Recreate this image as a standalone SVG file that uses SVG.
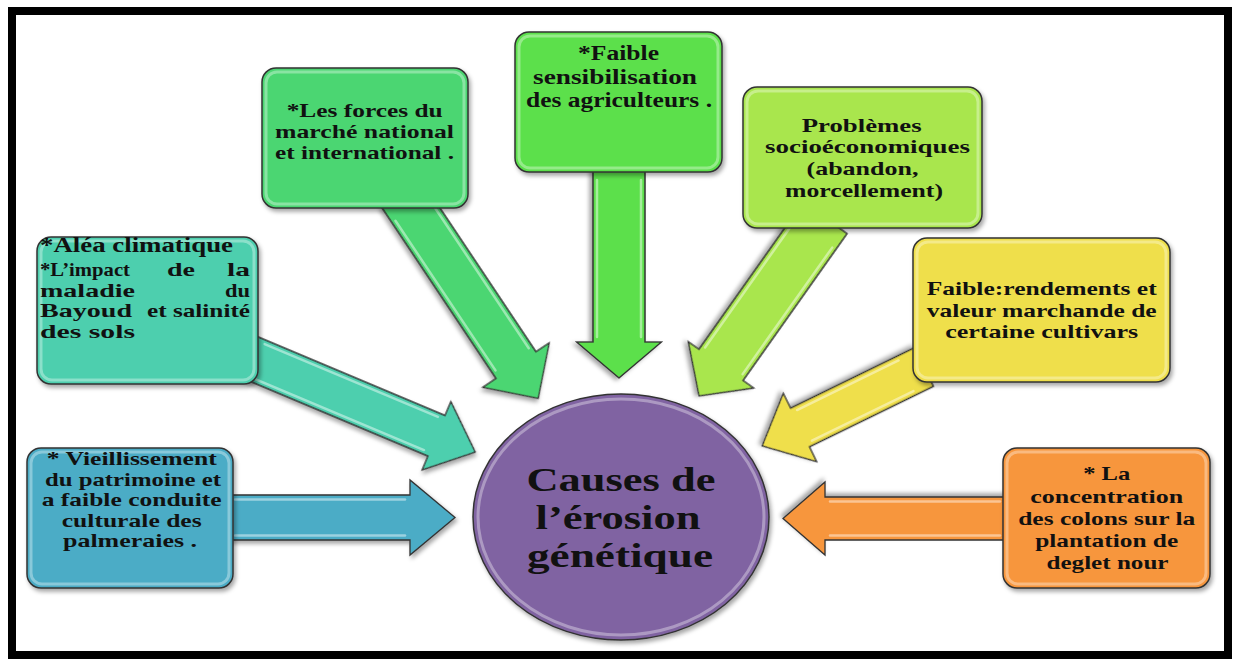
<svg xmlns="http://www.w3.org/2000/svg" width="1237" height="662" viewBox="0 0 1237 662">
<defs>
<filter id="sh" x="-20%" y="-20%" width="140%" height="140%">
<feDropShadow dx="2" dy="3" stdDeviation="2" flood-color="#000" flood-opacity="0.35"/>
</filter>
<style>
.box{stroke:#333;stroke-width:1.5;filter:url(#sh)}
.gl{fill:none;stroke:#fff;stroke-opacity:0.35;stroke-width:3}
.arr{stroke:#333;stroke-width:1.3;stroke-linejoin:miter;filter:url(#sh)}
.hl{stroke:#fff;stroke-opacity:0.45;stroke-width:2.5;stroke-linecap:round}
.t{font-family:"Liberation Serif","Times New Roman",serif;font-weight:bold;font-size:19px;fill:#111}
.tc{font-family:"Liberation Serif","Times New Roman",serif;font-weight:bold;font-size:33px;fill:#111}
</style>
</defs>
<rect x="0" y="0" width="1237" height="662" fill="#fff"/>
<rect x="12" y="11" width="1216" height="644" fill="none" stroke="#000" stroke-width="8"/>

<g id="connectors">
<g transform="translate(225,517.5)">
<polygon class="arr" fill="#4bacc6" points="0,-22.5 185,-22.5 185,-37.5 230,0 185,37.5 185,22.5 0,22.5"/>
<line class="hl" x1="10" y1="-18" x2="180" y2="-18"/><line class="hl" x1="10" y1="18" x2="180" y2="18"/>
</g>
<g transform="translate(230,349) rotate(22.8)">
<polygon class="arr" fill="#4dcfae" points="0,-22 224,-22 224,-37 266,0 224,37 224,22 0,22"/>
<line class="hl" x1="30" y1="-18" x2="218" y2="-18"/><line class="hl" x1="30" y1="18" x2="218" y2="18"/>
</g>
<g transform="translate(401,193) rotate(56.25)">
<polygon class="arr" fill="#4cd672" points="0,-24 207,-24 207,-40 247,0 207,40 207,24 0,24"/>
<line class="hl" x1="20" y1="-20" x2="200" y2="-20"/><line class="hl" x1="20" y1="20" x2="200" y2="20"/>
</g>
<g transform="translate(619,165) rotate(90)">
<polygon class="arr" fill="#5ce04c" points="0,-26 177,-26 177,-42.5 213,0 177,42.5 177,26 0,26"/>
<line class="hl" x1="15" y1="-22" x2="172" y2="-22"/><line class="hl" x1="15" y1="22" x2="172" y2="22"/>
</g>
<g transform="translate(825,218) rotate(125.3)">
<polygon class="arr" fill="#a9e64d" points="0,-27 180,-27 180,-40 218,0 180,40 180,27 0,27"/>
<line class="hl" x1="20" y1="-23" x2="175" y2="-23"/><line class="hl" x1="20" y1="23" x2="175" y2="23"/>
</g>
<g transform="translate(924,367) rotate(154)">
<polygon class="arr" fill="#efdf4c" points="0,-21.5 138,-21.5 138,-38 180,0 138,38 138,21.5 0,21.5"/>
<line class="hl" x1="20" y1="-17" x2="133" y2="-17"/><line class="hl" x1="20" y1="17" x2="133" y2="17"/>
</g>
<g transform="translate(1010,518.5) rotate(180)">
<polygon class="arr" fill="#f7963c" points="0,-21.5 185,-21.5 185,-36.5 227,0 185,36.5 185,21.5 0,21.5"/>
<line class="hl" x1="10" y1="-17" x2="180" y2="-17"/><line class="hl" x1="10" y1="17" x2="180" y2="17"/>
</g>
</g>

<g id="center">
<ellipse class="box" cx="621" cy="517" rx="148" ry="123" fill="#8064a2"/>
<ellipse class="gl" cx="621" cy="517" rx="143" ry="118"/>
<text class="tc" x="621" y="491" text-anchor="middle" textLength="189" lengthAdjust="spacingAndGlyphs">Causes de</text>
<text class="tc" x="618" y="529" text-anchor="middle" textLength="165" lengthAdjust="spacingAndGlyphs">l’érosion</text>
<text class="tc" x="620" y="567" text-anchor="middle" textLength="186" lengthAdjust="spacingAndGlyphs">génétique</text>
</g>

<g id="node-vieillissement">
<rect class="box" x="27" y="448" width="206" height="140" rx="14" fill="#4bacc6"/>
<rect class="gl" x="31" y="452" width="198" height="132" rx="11"/>
<text class="t" x="131.7" y="465" text-anchor="middle" textLength="170" lengthAdjust="spacingAndGlyphs">* Vieillissement</text>
<text class="t" x="133" y="485.5" text-anchor="middle" textLength="176" lengthAdjust="spacingAndGlyphs">du patrimoine et</text>
<text class="t" x="131.7" y="506" text-anchor="middle" textLength="180" lengthAdjust="spacingAndGlyphs">a faible conduite</text>
<text class="t" x="131.7" y="526.5" text-anchor="middle" textLength="140" lengthAdjust="spacingAndGlyphs">culturale des</text>
<text class="t" x="130" y="547" text-anchor="middle" textLength="134" lengthAdjust="spacingAndGlyphs">palmeraies .</text>
</g>

<g id="node-alea">
<rect class="box" x="37" y="237" width="221" height="147" rx="14" fill="#4dcfae"/>
<rect class="gl" x="41" y="241" width="213" height="139" rx="11"/>
<text class="t" x="40" y="252" textLength="193" lengthAdjust="spacingAndGlyphs" style="font-size:20px">*Aléa climatique</text>
<text class="t" x="40" y="276" textLength="90" lengthAdjust="spacingAndGlyphs">*L’impact</text>
<text class="t" x="167" y="276" textLength="28" lengthAdjust="spacingAndGlyphs">de</text>
<text class="t" x="227" y="276" textLength="23" lengthAdjust="spacingAndGlyphs">la</text>
<text class="t" x="40" y="296.5" textLength="95" lengthAdjust="spacingAndGlyphs">maladie</text>
<text class="t" x="225" y="296.5" textLength="25" lengthAdjust="spacingAndGlyphs">du</text>
<text class="t" x="40" y="317" textLength="92" lengthAdjust="spacingAndGlyphs">Bayoud</text>
<text class="t" x="147" y="317" textLength="103" lengthAdjust="spacingAndGlyphs">et salinité</text>
<text class="t" x="40" y="337.5" textLength="95" lengthAdjust="spacingAndGlyphs">des sols</text>
</g>

<g id="node-forces">
<rect class="box" x="262" y="68" width="206" height="140" rx="14" fill="#4cd672"/>
<rect class="gl" x="266" y="72" width="198" height="132" rx="11"/>
<text class="t" x="364.7" y="117" text-anchor="middle" textLength="156" lengthAdjust="spacingAndGlyphs">*Les forces du</text>
<text class="t" x="364.5" y="138" text-anchor="middle" textLength="179" lengthAdjust="spacingAndGlyphs">marché national</text>
<text class="t" x="364.5" y="159" text-anchor="middle" textLength="179" lengthAdjust="spacingAndGlyphs">et international .</text>
</g>

<g id="node-sensibilisation">
<rect class="box" x="515" y="32" width="207" height="140" rx="14" fill="#5ce04c"/>
<rect class="gl" x="519" y="36" width="199" height="132" rx="11"/>
<text class="t" x="618.5" y="60" text-anchor="middle" textLength="81" lengthAdjust="spacingAndGlyphs" style="font-size:21px">*Faible</text>
<text class="t" x="615" y="84" text-anchor="middle" textLength="164" lengthAdjust="spacingAndGlyphs" style="font-size:21px">sensibilisation</text>
<text class="t" x="619" y="107" text-anchor="middle" textLength="186" lengthAdjust="spacingAndGlyphs" style="font-size:21px">des agriculteurs .</text>
</g>

<g id="node-problemes">
<rect class="box" x="743" y="87" width="239" height="141" rx="14" fill="#a9e64d"/>
<rect class="gl" x="747" y="91" width="231" height="133" rx="11"/>
<text class="t" x="861.7" y="131.5" text-anchor="middle" textLength="120" lengthAdjust="spacingAndGlyphs">Problèmes</text>
<text class="t" x="867.5" y="153" text-anchor="middle" textLength="205" lengthAdjust="spacingAndGlyphs">socioéconomiques</text>
<text class="t" x="862.5" y="175" text-anchor="middle" textLength="112" lengthAdjust="spacingAndGlyphs">(abandon,</text>
<text class="t" x="864" y="196.5" text-anchor="middle" textLength="158" lengthAdjust="spacingAndGlyphs">morcellement)</text>
</g>

<g id="node-rendements">
<rect class="box" x="913" y="238" width="257" height="144" rx="14" fill="#efdf4c"/>
<rect class="gl" x="917" y="242" width="249" height="136" rx="11"/>
<text class="t" x="1041.7" y="295" text-anchor="middle" textLength="230" lengthAdjust="spacingAndGlyphs">Faible:rendements et</text>
<text class="t" x="1041.7" y="316.5" text-anchor="middle" textLength="230" lengthAdjust="spacingAndGlyphs">valeur marchande de</text>
<text class="t" x="1041.7" y="338" text-anchor="middle" textLength="193" lengthAdjust="spacingAndGlyphs">certaine cultivars</text>
</g>

<g id="node-concentration">
<rect class="box" x="1003" y="448" width="207" height="140" rx="14" fill="#f7963c"/>
<rect class="gl" x="1007" y="452" width="199" height="132" rx="11"/>
<text class="t" x="1106.7" y="480" text-anchor="middle" textLength="47" lengthAdjust="spacingAndGlyphs">* La</text>
<text class="t" x="1106.7" y="503" text-anchor="middle" textLength="153" lengthAdjust="spacingAndGlyphs">concentration</text>
<text class="t" x="1106.7" y="525" text-anchor="middle" textLength="177" lengthAdjust="spacingAndGlyphs">des colons sur la</text>
<text class="t" x="1106.7" y="547" text-anchor="middle" textLength="143" lengthAdjust="spacingAndGlyphs">plantation de</text>
<text class="t" x="1107.5" y="569" text-anchor="middle" textLength="122" lengthAdjust="spacingAndGlyphs">deglet nour</text>
</g>
</svg>
